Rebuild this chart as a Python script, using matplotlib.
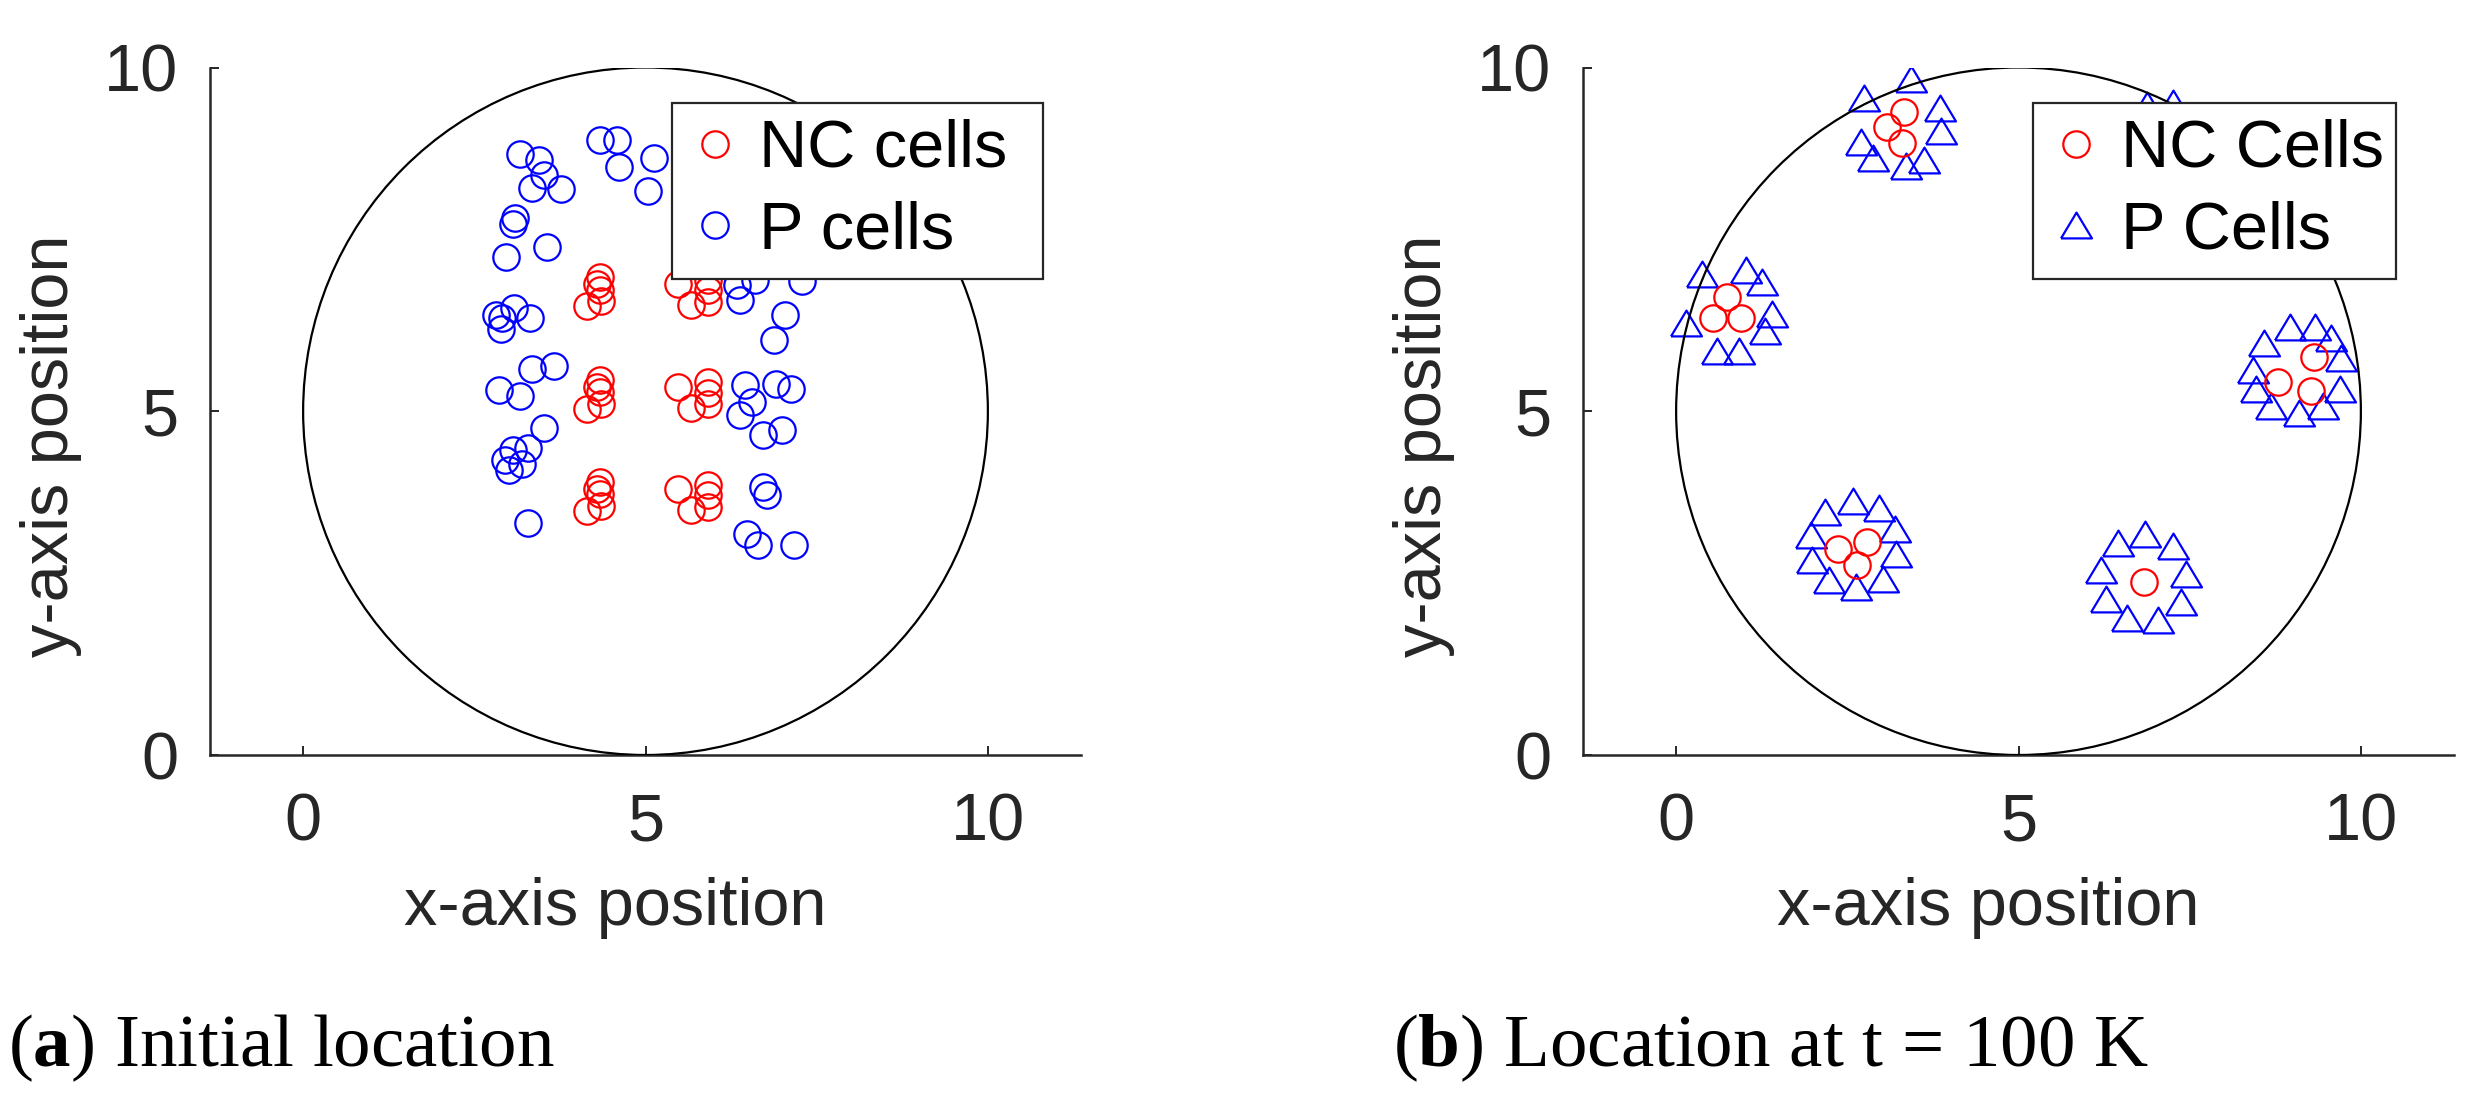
import matplotlib
matplotlib.use("Agg")
import matplotlib.pyplot as plt
from matplotlib.patches import Circle, Rectangle
import numpy as np

plt.rcParams['font.family'] = ['Liberation Sans', 'DejaVu Sans']
plt.rcParams['mathtext.fontset'] = 'custom'
plt.rcParams['mathtext.rm'] = 'Liberation Serif'
plt.rcParams['mathtext.bf'] = 'Liberation Serif:bold'

# (a) initial location
nc0_x = [4.33, 4.29, 4.34, 4.35, 4.14, 5.48, 5.92, 5.91, 5.92, 5.67,
         4.33, 4.29, 4.34, 4.35, 4.14, 5.48, 5.92, 5.91, 5.92, 5.67,
         4.33, 4.29, 4.34, 4.35, 4.14, 5.48, 5.92, 5.91, 5.92, 5.67]
nc0_y = [6.95, 6.85, 6.77, 6.60, 6.53, 6.85, 6.91, 6.76, 6.59, 6.54,
         5.46, 5.36, 5.28, 5.11, 5.04, 5.36, 5.42, 5.27, 5.10, 5.05,
         3.97, 3.87, 3.79, 3.62, 3.55, 3.87, 3.93, 3.78, 3.61, 3.56]
p0_x = [4.33, 4.59, 4.62, 5.12, 5.03, 3.17, 3.45, 3.52, 3.34, 3.76,
        3.10, 3.07, 2.96, 3.56, 2.82, 3.08, 2.89, 3.31, 2.90, 3.34,
        3.67, 2.86, 3.16, 3.52, 3.29, 3.07, 2.95, 3.19, 3.00, 3.28,
        6.34, 6.60, 7.29, 6.38, 7.03, 6.88, 6.46, 6.90, 7.12, 6.56,
        6.38, 6.72, 7.00, 6.72, 6.77, 6.48, 6.64, 7.17]
p0_y = [8.95, 8.94, 8.56, 8.69, 8.20, 8.74, 8.65, 8.44, 8.25, 8.23,
        7.81, 7.72, 7.24, 7.39, 6.40, 6.50, 6.19, 6.35, 6.35, 5.61,
        5.66, 5.31, 5.22, 4.75, 4.46, 4.44, 4.29, 4.24, 4.15, 3.37,
        6.84, 6.91, 6.89, 6.62, 6.40, 6.03, 5.38, 5.40, 5.33, 5.14,
        4.95, 4.65, 4.73, 3.90, 3.78, 3.22, 3.06, 3.05]

# (b) location at t = 100 K
nc1_x = [0.74, 0.54, 0.95, 3.08, 3.33, 3.30, 7.00, 7.35, 7.20,
         9.31, 8.79, 9.27, 2.36, 2.79, 2.64, 6.83]
nc1_y = [6.66, 6.36, 6.36, 9.14, 9.36, 8.90, 8.90, 8.95, 8.60,
         5.79, 5.42, 5.29, 3.00, 3.10, 2.76, 2.51]
p1_x = [0.38, 1.02, 1.26, 0.14, 1.40, 1.30, 0.60, 0.92,
        2.74, 3.43, 3.86, 3.87, 3.62, 3.36, 2.70, 2.88,
        6.87, 7.25, 7.62, 7.80, 7.75, 7.40, 6.95, 6.60, 6.55,
        8.97, 9.33, 9.57, 8.58, 9.71, 8.43, 8.47, 9.70, 8.69, 9.09, 9.44,
        2.17, 2.58, 2.96, 3.20, 1.97, 3.21, 1.99, 3.02, 2.23, 2.63,
        6.45, 6.85, 7.25, 6.21, 7.44, 6.28, 7.38, 6.59, 7.03]
p1_y = [7.00, 7.06, 6.88, 6.29, 6.41, 6.17, 5.88, 5.88,
        9.55, 9.83, 9.41, 9.07, 8.66, 8.57, 8.91, 8.68,
        9.45, 9.48, 9.30, 8.95, 8.50, 8.25, 8.25, 8.55, 9.00,
        6.23, 6.23, 6.06, 5.99, 5.77, 5.60, 5.33, 5.33, 5.07, 4.97, 5.07,
        3.53, 3.69, 3.60, 3.29, 3.20, 2.92, 2.84, 2.56, 2.54, 2.44,
        3.08, 3.21, 3.04, 2.69, 2.64, 2.27, 2.23, 1.99, 1.97]

dish_center = (5, 5)
dish_radius = 5

panels = [
    dict(nc=(nc0_x, nc0_y), p=(p0_x, p0_y), p_marker='o',
         labels=['NC cells', 'P cells'], caption=r'($\mathbf{a}$) Initial location',
         left=210, cap_x=8, leg=(0.530, 0.426)),
    dict(nc=(nc1_x, nc1_y), p=(p1_x, p1_y), p_marker='tri',
         labels=['NC Cells', 'P Cells'], caption=r'($\mathbf{b}$) Location at t = 100 K',
         left=1583, cap_x=1393, leg=(0.517, 0.416)),
]

W, H = 2483, 1096
fig = plt.figure(figsize=(W / 100, H / 100), dpi=100)
gray = '#262626'
tri = [(-0.6, -0.5), (0.6, -0.5), (0.0, 0.5), (-0.6, -0.5)]

for pnl in panels:
    ax = fig.add_axes([pnl['left'] / W, 1 - 755 / H, 871 / W, 687.5 / H])
    if pnl['p_marker'] == 'tri':
        ax.plot(*pnl['p'], linestyle='none', marker=tri, ms=22.3, mfc='none',
                mec='blue', mew=1.6, label=pnl['labels'][1])
    else:
        ax.plot(*pnl['p'], linestyle='none', marker='o', ms=19, mfc='none',
                mec='blue', mew=1.6, label=pnl['labels'][1])
    ax.plot(*pnl['nc'], linestyle='none', marker='o', ms=19, mfc='none',
            mec='red', mew=1.6, label=pnl['labels'][0])
    ax.add_patch(Circle(dish_center, dish_radius, fill=False, color='black', lw=1.6, zorder=3))
    ax.set_xlim(-1.36, 11.36)
    ax.set_ylim(0, 10)
    ax.set_xticks([0, 5, 10])
    ax.set_yticks([0, 5, 10])
    for s in ['top', 'right']:
        ax.spines[s].set_visible(False)
    for s in ['left', 'bottom']:
        ax.spines[s].set_color(gray)
        ax.spines[s].set_linewidth(1.8)
    ax.tick_params(direction='in', length=6.7, width=1.4, color=gray,
                   labelcolor=gray, labelsize=48)
    ax.tick_params(axis='x', pad=27)
    ax.tick_params(axis='y', pad=23)
    ax.set_xlabel('x-axis position', fontsize=48, color=gray)
    ax.set_ylabel('y-axis position', fontsize=48, color=gray)
    ax.xaxis.set_label_coords(0.465, -0.247)
    ax.xaxis.label.set_va('baseline')
    ax.yaxis.set_label_coords(-0.163, 0.45)
    ax.yaxis.label.set_va('baseline')

    # legend box drawn separately so its size matches the original
    lx, lw = pnl['leg']
    ax.add_patch(Rectangle((lx, 0.692), lw, 0.256, transform=ax.transAxes,
                           facecolor='white', edgecolor=gray, lw=1.6,
                           zorder=4, clip_on=False))
    h, l = ax.get_legend_handles_labels()
    leg = ax.legend(h[::-1], l[::-1], loc='upper left', fontsize=48,
                    bbox_to_anchor=(lx, 0.948), frameon=False,
                    borderpad=0.235, handlelength=0.82, handletextpad=0.26,
                    labelspacing=0.29, borderaxespad=0)
    leg.set_zorder(5)
    fig.text(pnl['cap_x'] / W, 1 - 1066 / H, pnl['caption'],
             family='Liberation Serif', fontsize=54, va='baseline', color='black')

fig.savefig('out.png', dpi=100)
